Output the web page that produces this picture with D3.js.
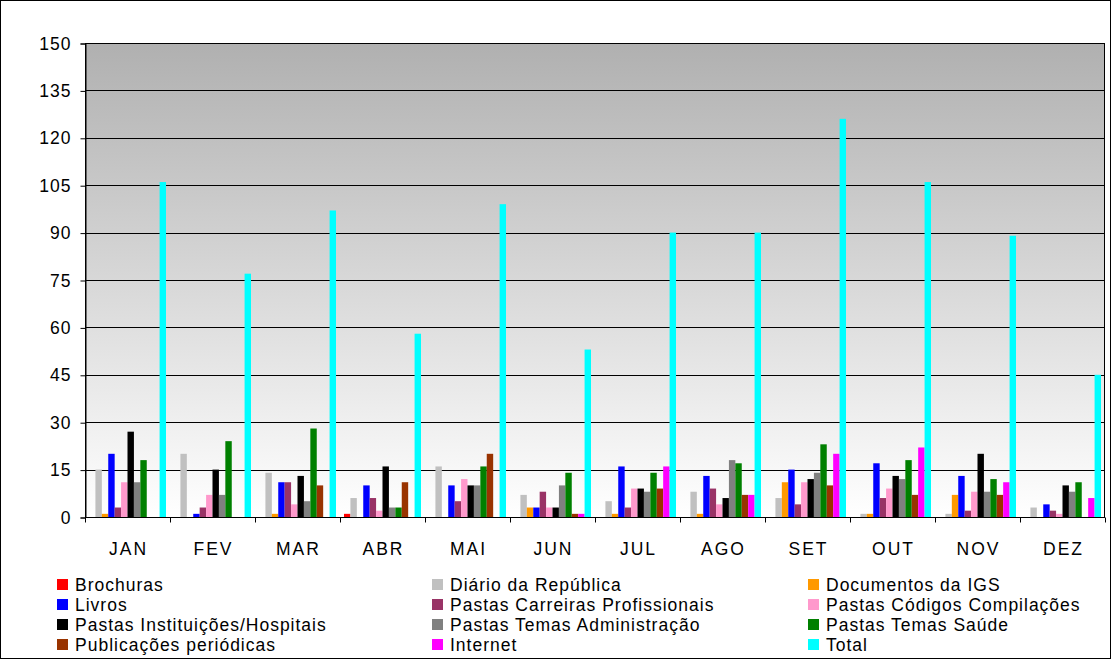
<!DOCTYPE html>
<html>
<head>
<meta charset="utf-8">
<script src="https://cdn.jsdelivr.net/npm/d3@7/dist/d3.min.js"></script>
<style>
  html, body { margin: 0; padding: 0; background: #fff; }
  svg { display: block; font-family: Arial, "Liberation Sans", sans-serif; }
</style>
</head>
<body>
<svg id="chart" width="1111" height="659"></svg>
<script>
// Monthly counts per document type
const months = ["JAN", "FEV", "MAR", "ABR", "MAI", "JUN", "JUL", "AGO", "SET", "OUT", "NOV", "DEZ"];
const seriesNames = [
  "Brochuras", "Diário da República", "Documentos da IGS",
  "Livros", "Pastas Carreiras Profissionais", "Pastas Códigos Compilações",
  "Pastas Instituições/Hospitais", "Pastas Temas Administração", "Pastas Temas Saúde",
  "Publicações periódicas", "Internet", "Total"
];
const seriesColors = [
  "#FF0000", "#C0C0C0", "#FF9900",
  "#0000FF", "#993366", "#FF99CC",
  "#000000", "#808080", "#008000",
  "#993300", "#FF00FF", "#00FFFF"
];
const brochuras     = [0, 0, 0, 1, 0, 0, 0, 0, 0, 0, 0, 0];
const diario        = [15, 20, 14, 6, 16, 7, 5, 8, 6, 1, 1, 3];
const documentos    = [1, 0, 1, 0, 0, 3, 1, 1, 11, 1, 7, 0];
const livros        = [20, 1, 11, 10, 10, 3, 16, 13, 15, 17, 13, 4];
const carreiras     = [3, 3, 11, 6, 5, 8, 3, 9, 4, 6, 2, 2];
const codigos       = [11, 7, 4, 2, 12, 3, 9, 4, 11, 9, 8, 1];
const instituicoes  = [27, 15, 13, 16, 10, 3, 9, 6, 12, 13, 20, 10];
const administracao = [11, 7, 5, 3, 10, 10, 8, 18, 14, 12, 8, 8];
const saude         = [18, 24, 28, 3, 16, 14, 14, 17, 23, 18, 12, 11];
const publicacoes   = [0, 0, 10, 11, 20, 1, 9, 7, 10, 7, 7, 0];
const internet      = [0, 0, 0, 0, 0, 1, 16, 7, 20, 22, 11, 6];
const total         = [106, 77, 97, 58, 99, 53, 90, 90, 126, 106, 89, 45];
const yTicks = [0, 15, 30, 45, 60, 75, 90, 105, 120, 135, 150];

const seriesValues = [brochuras, diario, documentos, livros, carreiras, codigos,
  instituicoes, administracao, saude, publicacoes, internet, total];

const FONT = "Arial, 'Liberation Sans', sans-serif";
const FS = 17.5;
const LS = "1px";

const svg = d3.select("#chart");
const W = 1111, H = 659;
const plot = { left: 85, top: 43, right: 1105, bottom: 517 };

// outer frame
svg.append("rect").attr("x", 0.5).attr("y", 0.5).attr("width", W - 1).attr("height", H - 1)
  .attr("fill", "#fff").attr("stroke", "#000").attr("stroke-width", 1);

// plot background gradient
const defs = svg.append("defs");
const grad = defs.append("linearGradient").attr("id", "bg").attr("x1", 0).attr("y1", 0).attr("x2", 0).attr("y2", 1);
grad.append("stop").attr("offset", "0%").attr("stop-color", "#b0b0b0");
grad.append("stop").attr("offset", "100%").attr("stop-color", "#ffffff");

svg.append("rect").attr("x", plot.left).attr("y", plot.top)
  .attr("width", plot.right - plot.left).attr("height", plot.bottom - plot.top)
  .attr("fill", "url(#bg)");

const x0 = d3.scaleBand().domain(months).range([plot.left, plot.right])
  .paddingInner(0.094).paddingOuter(0.047);
const x1 = d3.scaleBand().domain(seriesNames).range([0, x0.bandwidth()]);
const y = d3.scaleLinear().domain([0, 150]).range([plot.bottom, plot.top]);

// horizontal gridlines
svg.append("g").selectAll("line").data(yTicks.filter(d => d > 0)).join("line")
  .attr("x1", plot.left).attr("x2", plot.right)
  .attr("y1", d => Math.round(y(d)) + 0.5).attr("y2", d => Math.round(y(d)) + 0.5)
  .attr("stroke", "#000").attr("stroke-width", 1);

// bars
const groups = svg.append("g").selectAll("g").data(months).join("g")
  .attr("transform", d => `translate(${x0(d)},0)`);
groups.selectAll("rect")
  .data((m, i) => seriesNames.map((s, k) => ({ s, k, v: seriesValues[k][i] })))
  .join("rect")
  .attr("x", d => x1(d.s))
  .attr("width", x1.bandwidth())
  .attr("y", d => y(d.v))
  .attr("height", d => y(0) - y(d.v))
  .attr("fill", d => seriesColors[d.k]);

// plot frame
svg.append("rect").attr("x", plot.left + 0.5).attr("y", plot.top + 0.5)
  .attr("width", plot.right - plot.left - 1).attr("height", plot.bottom - plot.top)
  .attr("fill", "none").attr("stroke", "#000").attr("stroke-width", 1);

// y axis
const yAxis = d3.axisLeft(y).tickValues(yTicks).tickSize(5).tickPadding(9);
const gy = svg.append("g").attr("transform", `translate(${plot.left + 0.5},0.5)`).call(yAxis);
gy.select(".domain").attr("stroke", "#000");
gy.selectAll(".tick line").attr("stroke", "#000");
gy.selectAll(".tick text").attr("font-size", FS).attr("fill", "#000")
  .attr("font-family", FONT).attr("letter-spacing", LS);

// x axis with ticks between categories
const gx = svg.append("g").attr("transform", `translate(0,${plot.bottom + 0.5})`);
gx.append("line").attr("x1", plot.left).attr("x2", plot.right).attr("stroke", "#000");
const step = x0.step();
gx.selectAll("line.tk").data(d3.range(months.length + 1)).join("line").attr("class", "tk")
  .attr("x1", i => Math.round(plot.left + i * step) + 0.5)
  .attr("x2", i => Math.round(plot.left + i * step) + 0.5)
  .attr("y1", 0).attr("y2", 5).attr("stroke", "#000");
gx.selectAll("text").data(months).join("text")
  .attr("x", d => x0(d) + x0.bandwidth() / 2 + 1)
  .attr("y", 37)
  .attr("text-anchor", "middle")
  .attr("font-size", FS).attr("fill", "#000").attr("letter-spacing", "2px")
  .text(d => d);

// legend, three columns
const legendCols = [57, 432, 808];
const legendRows = [585, 605, 625, 645];
const lg = svg.append("g").selectAll("g").data(seriesNames).join("g")
  .attr("transform", (d, i) => `translate(${legendCols[i % 3]},${legendRows[Math.floor(i / 3)]})`);
lg.append("rect").attr("x", 0).attr("y", -6).attr("width", 11).attr("height", 11)
  .attr("fill", (d, i) => seriesColors[i]);
lg.append("text").attr("x", 18).attr("y", 6).attr("font-size", FS).attr("fill", "#000")
  .attr("letter-spacing", LS)
  .text(d => d);
</script>
</body>
</html>
